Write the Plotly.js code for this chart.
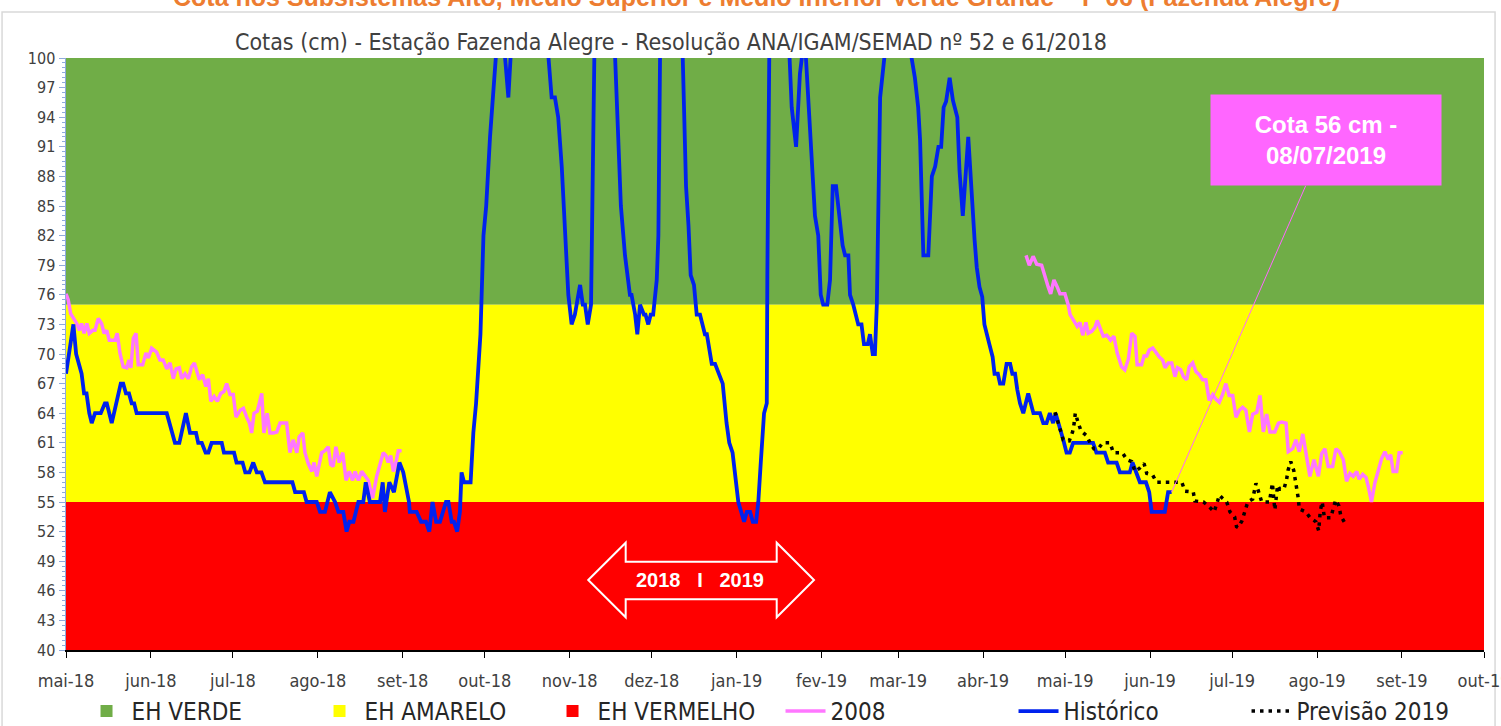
<!DOCTYPE html>
<html>
<head>
<meta charset="utf-8">
<script src="https://cdn.plot.ly/plotly-3.0.1.min.js"></script>
<style>html,body{margin:0;padding:0;background:#fff}#chart{width:1501px;height:726px}</style>
</head>
<body>
<div id="chart"></div>
<script>
// ---- DATA (days counted from 2018-05-01) ----
const startDate = [2018, 4, 1];
const endDate = [2019, 9, 1];

const tickLabels = ['mai-18','jun-18','jul-18','ago-18','set-18','out-18','nov-18','dez-18','jan-19','fev-19','mar-19','abr-19','mai-19','jun-19','jul-19','ago-19','set-19','out-19'];

const bandNames = ['EH VERDE', 'EH AMARELO', 'EH VERMELHO'];
const bandLow = [75, 55, 40];
const bandHigh = [100, 75, 55];

const histDia = [0,2.7,3.7,5.7,6.6,7.5,8.5,9.4,10.6,12.7,14.2,14.9,16.7,18.5,20,20.9,21.9,23,24,24.9,25.8,36.8,39.8,41.4,43.8,45.3,47.5,48.3,49.6,51,52,53.2,56.9,57.7,61.4,62.3,64.5,65.5,67,68.4,69.7,71.4,72.7,82.7,83.7,86.9,87.9,91.6,92.8,94.6,96.4,98.3,99.5,101.3,102.5,103.5,105,106.8,108.6,109.5,111,114.7,115.7,116.5,118.1,119.8,121.8,123.2,125.3,125.6,128.1,129.7,131.5,132.7,133.9,135.2,136.6,138.8,139.7,140.9,141.7,142.9,143.9,144.5,145.4,147.8,148.8,149.8,150.6,151.4,152.5,153.5,154.9,156.1,157,158.5,159.8,160.4,161.6,162.4,164,174,176.2,177.4,178.6,179.8,181.1,182.3,183.5,184.7,185.9,187.8,188.8,189.6,190.6,191.8,192.6,193,195,199,200.6,201.7,202.7,204.2,206,206.6,207.9,208.7,209.7,211.1,211.7,212.7,213.6,214.5,215.1,215.8,216.4,217,219,223,225.3,225.8,226.5,227.4,228.2,229.4,230.4,231.6,233.4,234.1,235.9,237.1,239.9,241.3,242.3,243.5,244.4,245.6,247.7,248.7,249.9,250.9,252.1,252.9,253.8,255,256,256.2,256.9,259,262,264.2,265.1,266.7,268.1,268.8,269.5,270.3,271.8,273.6,274.8,275.7,276.6,278.1,279.1,280.1,281.3,282.5,283.7,284.6,285.8,286.4,287.6,289.4,290.6,291.5,292.9,293.7,294.7,295.5,296.2,297.4,298.3,299.2,302,306,308.9,310.1,311.3,312,313.2,315,316.3,317.5,318.7,319.7,320.6,321.5,322.8,324,325.6,326.4,327.6,329.6,330.7,331.9,332.7,333.7,334.7,335.5,337.3,338.5,339.2,340.4,341.2,342.4,343.6,344.9,345.7,346.7,347.5,348.5,349.7,351.5,353.4,355.8,357,358.2,359.4,360.6,361.5,363.1,364.3,365.5,366.7,367.9,375.2,376.4,379.5,380.7,383.8,385,388.6,389.6,391.1,392.3,394.5,395.7,396.6,401.4,402.6,403.9];
const histCota = [68,73,70,68,66,66,64,63,64,64,65,65,63,65,67,67,66,66,65,65,64,64,61,61,64,62,62,61,61,60,60,61,61,60,60,59,59,58,58,59,58,58,57,57,56,56,55,55,54,54,56,55,54,54,52,53,53,55,55,57,55,55,57,54,57,56,59,58,55,54,54,53,53,52,55,53,53,55,55,53,53,52,54,58,57,57,62,65,69,72,82,85,92,97,100,104,104,100,96,100,108,108,100,96,96,94,89,82,76,73,74,77,75,75,73,75,92,100,110,110,100,92,85,80,76,76,74,72,75,74,74,73,74,74,75.5,77.5,82,100,110,110,100,95,87,83,78,77,74,74,72,72,69,69,67,63,61,60,57.5,55,53,54,54,53,53,55,59,64,65,78,100,115,115,100,95,91,98.4,100,102,100,93.4,84,82,76,75,75,77.5,87,87,84,81,80,80,76,75,73,73,71,71,72,70,70,75,96,98,100,108,108,100,98,95,91.7,80,80,88,89,91,91,95,95.6,98,95.7,94,88.6,84,92,86.6,81.6,78.8,76.8,75.8,73,71,69.7,68,68,67,67,69,69,68,68,66.4,65,64,66,64,64,63,63,64,63,64,62.6,61.3,60,60,61,61,60,60,59,59,58,58,59,58,57,57,56,54,54,56,56];

const ano2008DiaA = [0,0.8,1.7,2.7,3.9,4.9,5.7,6.6,7.6,8.5,9.8,10.6,11.8,13,13.9,14.9,15.8,17.9,18.7,19.7,20.9,22.2,23,23.7,24.6,25.6,26.4,28,29.2,30.1,31.3,33.1,34.3,35.5,36.8,38,39.2,40.2,41.4,42.3,43.5,44.7,45.9,46.9,47.7,48.7,49.9,51.1,52,52.9,54.1,55.3,56.5,57.7,58.7,59.9,61.1,62.1,63.6,64.8,66,67,67.8,68.7,69.9,71.5,72.3,73.5,74.5,75.7,77,78.2,80.6,81.8,83,84.3,85.2,86.5,87.3,88.5,89.8,90.6,91.6,92.8,93.4,94.6,95.8,96.7,97.6,98.6,99.8,101.1,102.3,103.5,104.7,105.6,106.8,108,109.2,110.4,112,113.5,114.7,115.9,116.9,117.7,118.6,119.6,120.5,121.4,122.6];
const ano2008CotaA = [76.1,75.5,74.1,73.6,73.1,72.4,73.1,72.1,73.1,72.1,72.4,72.4,73.6,73.1,72.1,72.4,71.4,71.4,72.1,70.1,68.7,68.6,69.4,68.6,71.6,72.1,68.9,68.9,70.1,69.6,70.6,70.2,69.4,69.4,68.5,69.1,67.5,68.5,68.6,67.5,68,67.5,68.7,69.1,68.4,67.4,67.9,66.7,67.5,65.2,65.7,65.2,66,66.2,67,65.9,65.9,63.6,64.3,64.5,63.6,63,62,64,64.2,66,62,64,62,62,62.1,63,63,60,61.3,60,61.6,62,60,58.9,58.1,59,57.6,59,60,60.2,60.6,58.8,58.6,60.6,59,60,57.2,58.1,57.2,58.1,57.2,58.1,57.6,57.2,55.4,57.6,58.8,60,59.7,59,59.7,58.1,59,60.2,60.2];
const ano2008DiaB = [350.7,351.9,353.3,354.6,356.4,357.6,358.8,359.7,360.9,362.1,363.1,364.9,366.1,366.8,368,369.4,370.4,371.4,372.6,373.4,374.7,375.9,376.7,378,378.9,380.2,381.6,382.8,384,385.6,386.8,388.1,389.3,390.5,391.3,392.9,393.8,394.8,395.7,397,398.2,399.4,400.6,401.5,402.7,403.9,405.1,406,407.2,408.2,409.4,410.3,411.6,412.8,414,415.2,416.4,417.6,418.9,420.1,421.3,422.5,423.7,424.9,426.2,427.4,428.6,429.8,431,432.3,433.5,435,436.2,437.4,438.6,439.8,441.6,442.9,444.1,445.7,446.5,448.1,449.3,450.5,451.8,453,454.4,455.9,457.5,458.7,459.9,461.1,462.7,463.9,465.1,466.6,467.8,469,470.2,471.5,472.4,473.7,474.9,475.7,476.9,478.1,479.3,480.6,481.8,483,483.9,484.8,486.1,487,488.3];
const ano2008CotaB = [80,79,79.9,79.1,79,77.8,76.8,76.1,77.5,76.8,76.1,76.1,75,74,73.4,72.8,73.2,71.9,73.2,72.1,72.3,72.7,73.4,72.3,71.8,71.9,71.4,71.8,70.1,68.7,68.4,69.5,72.1,71.8,68.9,68.9,69.8,69.8,70.4,70.6,70.1,69.7,69.4,68.6,69.1,69.1,67.7,68.6,68.4,67.7,67.4,68.7,69.1,68.2,67.9,67.4,67.4,65.3,65.9,65.4,65.1,65.9,67,65.8,65.8,63.6,64.3,64.6,64.3,62.1,63.9,64.1,65.8,62.1,63.9,62.1,62.1,63,63.1,63,60.1,60.4,61.3,60.1,61.9,59.9,57.6,59.3,57.6,59.9,60.4,58.6,58.6,60.4,60.1,59.3,57.1,57.9,57.6,58.1,57.3,57.8,57.5,56.6,55,56.9,58.2,59.4,60.1,59.3,59.8,58.1,58.1,60,60];

const prevDia = [361.3,362.5,363.7,364.3,366.5,367.7,368.3,368.7,369.8,370.8,372.9,374.1,375.5,377.1,378.7,381.4,382.6,385.9,387.5,389.3,390.5,392.1,393.8,394.8,397,398.4,401.4,404.5,407.6,408.8,411.8,412.4,415.5,417.3,419.4,420.6,421.3,422.4,424,425.2,426.9,427.6,428.2,429.6,430.6,431.7,433.5,434.1,434.7,435.7,436.8,439.6,440.1,440.7,441,441.4,441.6,442.6,443.4,444.9,445.9,446.4,447.4,448.5,449.1,449.6,450.2,450.5,452.9,454.5,456.6,457.6,458.2,458.9,459.7,462,462.8,463.8,465,465.7,467.1];
const prevCota = [64.1,63,62.1,61.3,61.2,62.1,63,64,63,62.2,61.7,61,60.4,60.4,61,61,60,60,59.3,59.1,58.1,58.4,58.9,57.9,57.7,57,57,57,57,56.1,56,55.1,55,54.6,54,55,55.7,55.4,55,54,53.5,52.5,52.4,53.1,54,55,55.3,56.2,56.9,56,55,55,56,56.9,56,55.2,54.2,56.7,56.3,56.3,57.3,58.2,59.1,58.2,57.2,56.2,55.3,54.3,54,53.4,53,52.1,54.1,55,53.4,53.4,54.3,55.2,54.6,53.6,52.9];

const notaTexto = 'Cota 56 cm -<br>08/07/2019';
const notaDia = 403.9, notaCota = 56;

// ---- helpers ----
const DAY = 86400000;
const t0 = Date.UTC(startDate[0], startDate[1], startDate[2]);
const t1 = Date.UTC(endDate[0], endDate[1], endDate[2]);
const toMs = d => t0 + d * DAY;
const tickVals = tickLabels.map((_, i) => Date.UTC(2018, 4 + i, 1));

const narrow = 'Liberation Sans Narrow, DejaVu Sans Condensed, Arial Narrow, sans-serif';
const bandColors = ['#70ad47', '#ffff00', '#ff0000'];

const traces = [];
bandNames.forEach((n, i) => {
  traces.push({
    type: 'bar', name: n,
    x: [(t0 + t1) / 2], width: [t1 - t0],
    base: [bandLow[i]], y: [bandHigh[i] - bandLow[i]],
    marker: {color: bandColors[i], line: {width: 0}},
    hoverinfo: 'skip'
  });
});
traces.push({
  type: 'scatter', mode: 'lines', name: '2008',
  x: ano2008DiaA.map(toMs).concat([null], ano2008DiaB.map(toMs)),
  y: ano2008CotaA.concat([null], ano2008CotaB),
  line: {color: '#ff77ff', width: 3.5}, connectgaps: false
});
traces.push({
  type: 'scatter', mode: 'lines', name: 'Histórico',
  x: histDia.map(toMs), y: histCota,
  line: {color: '#0022ee', width: 3.8}
});
traces.push({
  type: 'scatter', mode: 'lines', name: 'Previsão 2019',
  x: prevDia.map(toMs), y: prevCota,
  line: {color: '#000000', width: 3.5, dash: '3.5px,5px'}
});

const arrowPath = 'M0.3683,0.1182 L0.3947,0.1813 L0.3947,0.1492 L0.5012,0.1492 L0.5012,0.1813 L0.5275,0.1182 L0.5012,0.0552 L0.5012,0.0856 L0.3947,0.0856 L0.3947,0.0552 Z';

const layout = {
  width: 1501, height: 726,
  margin: {l: 66, r: 17, t: 58, b: 76},
  paper_bgcolor: '#ffffff', plot_bgcolor: '#ffffff',
  barmode: 'overlay', hovermode: false, showlegend: true,
  title: {
    text: 'Cotas (cm) - Estação Fazenda Alegre - Resolução ANA/IGAM/SEMAD nº 52 e 61/2018',
    font: {family: narrow, size: 23, color: '#404040'},
    xref: 'container', x: 0.447, xanchor: 'center',
    yref: 'container', y: 0.942, yanchor: 'middle'
  },
  xaxis: {
    type: 'date', range: [t0, t1],
    tickmode: 'array', tickvals: tickVals, ticktext: tickLabels,
    tickfont: {family: narrow, size: 18, color: '#404040'},
    ticks: 'outside', ticklen: 6, tickcolor: '#000', tickwidth: 1,
    showline: true, linecolor: '#000', linewidth: 1.5,
    showgrid: false, zeroline: false, ticklabelstandoff: 8,
    ticklabeloverflow: 'allow', fixedrange: true
  },
  yaxis: {
    range: [40, 100], tick0: 40, dtick: 3,
    tickfont: {family: narrow, size: 16, color: '#404040'},
    ticks: 'outside', ticklen: 6, tickcolor: '#8faadc', tickwidth: 1,
    minor: {dtick: 0.5, ticks: 'outside', ticklen: 3, tickcolor: '#8faadc', showgrid: false},
    showline: true, linecolor: '#8faadc', linewidth: 1.5,
    showgrid: false, zeroline: false, fixedrange: true
  },
  legend: {
    orientation: 'h', xref: 'container', yref: 'container',
    x: 0.52, xanchor: 'center', y: 0.02, yanchor: 'middle',
    font: {family: narrow, size: 24, color: '#262626'},
    bgcolor: 'rgba(0,0,0,0)', itemwidth: 40, traceorder: 'normal',
    entrywidth: 178, entrywidthmode: 'pixels'
  },
  shapes: [
    {type: 'rect', xref: 'paper', yref: 'paper', x0: -0.0451, x1: 1.0078, y0: -0.3, y1: 1.0777,
     line: {color: '#d9d9d9', width: 1.5}, fillcolor: 'rgba(0,0,0,0)', layer: 'below'},
    {type: 'path', xref: 'paper', yref: 'paper', path: arrowPath,
     line: {color: '#ffffff', width: 2}, fillcolor: 'rgba(0,0,0,0)'}
  ],
  annotations: [
    {xref: 'paper', yref: 'paper', x: 0.487, y: 1.103, xanchor: 'center', yanchor: 'middle',
     text: '<b>Cota nos Subsistemas Alto, Médio Superior e Médio Inferior Verde Grande – P 06 (Fazenda Alegre)</b>',
     showarrow: false, font: {family: 'Liberation Sans, Arial, sans-serif', size: 25, color: '#ed7d31'}},
    {xref: 'paper', yref: 'paper', x: 0.4471, y: 0.1182, xanchor: 'center', yanchor: 'middle',
     text: '<b>2018   I   2019</b>', showarrow: false,
     font: {family: 'Liberation Sans, Arial, sans-serif', size: 20, color: '#ffffff'}},
    {x: toMs(notaDia), y: notaCota, xref: 'x', yref: 'y',
     text: '<b>' + notaTexto + '</b>', showarrow: true, arrowhead: 0, arrowwidth: 1,
     arrowcolor: '#ff66ff', ax: 154, ay: -352, standoff: 0,
     bgcolor: '#ff66ff', width: 224, height: 84, borderpad: 3,
     font: {family: 'Liberation Sans, Arial, sans-serif', size: 24, color: '#ffffff'}}
  ]
};

Plotly.newPlot('chart', traces, layout, {displayModeBar: false, staticPlot: true});
</script>
</body>
</html>
